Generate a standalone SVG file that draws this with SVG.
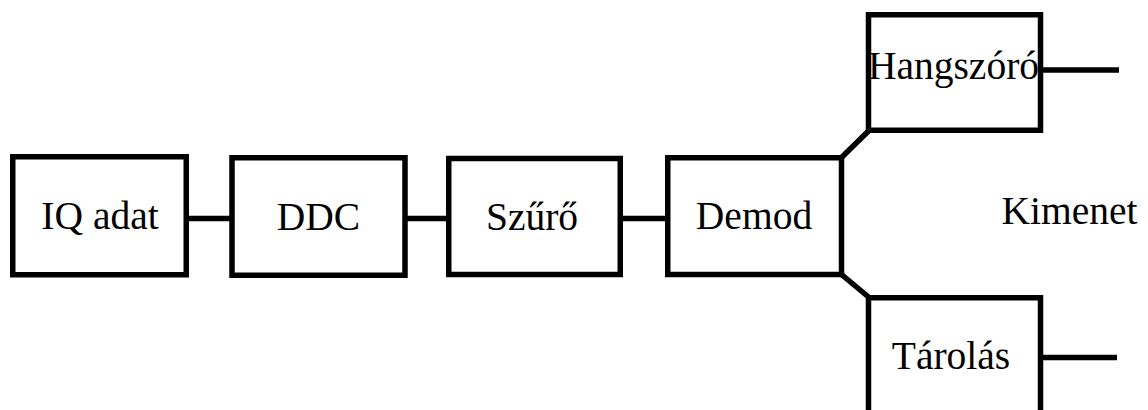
<svg xmlns="http://www.w3.org/2000/svg" width="1148" height="410" viewBox="0 0 1148 410">
  <style>
    .box { fill: #ffffff; stroke: #000000; stroke-width: 5.5; }
    .wire { fill: none; stroke: #000000; stroke-width: 5.5; stroke-linecap: butt; }
    .label { font-family: "Liberation Serif", "Times New Roman", serif; font-size: 39.5px; fill: #000000; text-anchor: middle; }
  </style>
  <rect width="1148" height="410" fill="#ffffff"/>

  <!-- connectors -->
  <g id="connectors">
    <line class="wire" x1="189" y1="218.5" x2="230" y2="218.5"/>
    <line class="wire" x1="407" y1="218.5" x2="447" y2="218.5"/>
    <line class="wire" x1="622" y1="218.5" x2="666" y2="218.5"/>
    <polyline class="wire" points="841.5,157.5 868.5,131"/>
    <polyline class="wire" points="841.5,274.5 868.5,297"/>
    <line class="wire" x1="1041" y1="70" x2="1119" y2="70" stroke-linecap="round"/>
    <line class="wire" x1="1041" y1="357.5" x2="1117" y2="357.5" stroke-linecap="round"/>
  </g>

  <g id="iq-adat">
    <rect class="box" x="12.75" y="156.75" width="173.5" height="118"/>
    <text class="label" x="100" y="228.5">IQ adat</text>
  </g>

  <g id="ddc">
    <rect class="box" x="232" y="157.75" width="173" height="117.5"/>
    <text class="label" x="318.5" y="229.5">DDC</text>
  </g>

  <g id="szuro">
    <rect class="box" x="448.75" y="158.5" width="171.5" height="116"/>
    <text class="label" x="532" y="229.5">Szűrő</text>
  </g>

  <g id="demod">
    <rect class="box" x="667.75" y="157.75" width="173.75" height="116.75"/>
    <text class="label" x="754" y="228.5">Demod</text>
  </g>

  <g id="hangszoro">
    <rect class="box" x="868.5" y="14.75" width="172" height="115.5"/>
    <text class="label" x="953.5" y="79">Hangszóró</text>
  </g>

  <g id="tarolas">
    <rect class="box" x="868.5" y="297.75" width="172" height="130"/>
    <text class="label" x="951" y="369">Tárolás</text>
  </g>

  <g id="kimenet">
    <text class="label" x="1069.5" y="224">Kimenet</text>
  </g>
</svg>
